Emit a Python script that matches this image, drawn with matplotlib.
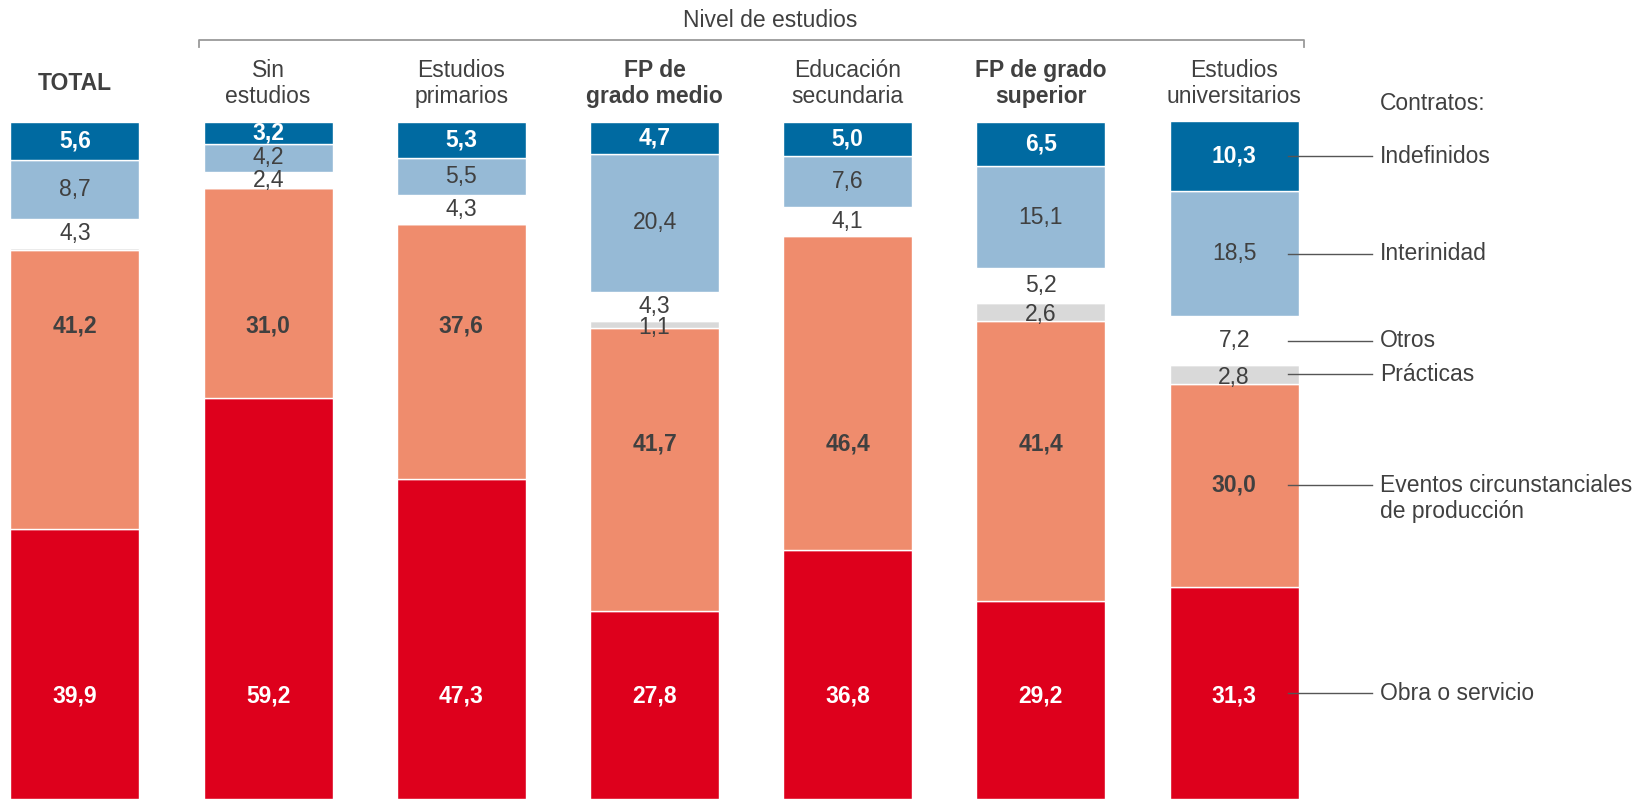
import matplotlib.pyplot as plt
import numpy as np

plt.rcParams['font.family'] = ['Liberation Sans', 'DejaVu Sans']

# categorias (columnas)
categorias = ['TOTAL', 'Sin\nestudios', 'Estudios\nprimarios', 'FP de\ngrado medio',
              'Educación\nsecundaria', 'FP de grado\nsuperior', 'Estudios\nuniversitarios']
negrita = [True, False, False, True, False, True, False]

# tipos de contrato, de abajo a arriba (%)
obra = [39.9, 59.2, 47.3, 27.8, 36.8, 29.2, 31.3]
eventos = [41.2, 31.0, 37.6, 41.7, 46.4, 41.4, 30.0]
practicas = [0.3, 0.0, 0.0, 1.1, 0.1, 2.6, 2.8]
otros = [4.3, 2.4, 4.3, 4.3, 4.1, 5.2, 7.2]
interinidad = [8.7, 4.2, 5.5, 20.4, 7.6, 15.1, 18.5]
indefinidos = [5.6, 3.2, 5.3, 4.7, 5.0, 6.5, 10.3]

nombres = ['Obra o servicio', 'Eventos circunstanciales\nde producción', 'Prácticas',
           'Otros', 'Interinidad', 'Indefinidos']

# posicion vertical de las etiquetas de obra y eventos (el diseño no las centra)
obra_label_y = 15.2
eventos_label_y = [69.9, 69.9, 69.9, 52.5, 52.5, 52.5, 46.3]

TXT = '#404040'
series = [
    (obra, '#de001c', 'white', 'bold'),
    (eventos, '#ef8c6d', TXT, 'bold'),
    (practicas, '#d9d9d9', TXT, 'normal'),
    (otros, 'white', TXT, 'normal'),
    (interinidad, '#96bad6', TXT, 'normal'),
    (indefinidos, '#006aa1', 'white', 'bold'),
]

fig = plt.figure(figsize=(16.41, 7.99), dpi=100)
ax = fig.add_axes([0, 0, 1, 1])
ax.set_xlim(-0.388, 8.106)
ax.set_ylim(0, 118.0)
ax.axis('off')

x = np.arange(len(categorias))
w = 0.668
fs = 16.5

def fmt(v):
    return f'{v:.1f}'.replace('.', ',')

bottom = np.zeros(len(categorias))
centros_ultima = []
for k, (vals, col, tcol, peso) in enumerate(series):
    vals = np.array(vals)
    ax.bar(x, vals, width=w, bottom=bottom, color=col, edgecolor='white', linewidth=1)
    for i in range(len(x)):
        if vals[i] < 1:
            continue
        yc = bottom[i] + vals[i] / 2
        if k == 0:
            yc = obra_label_y
        elif k == 1:
            yc = eventos_label_y[i]
        elif k == 2:
            yc -= 0.4
        ax.text(x[i], yc, fmt(vals[i]), ha='center', va='center', color=tcol,
                fontsize=fs, fontweight=peso)
    centros_ultima.append(bottom[-1] + vals[-1] / 2)
    bottom = bottom + vals

# cabeceras
for i, cat in enumerate(categorias):
    ax.text(x[i], 105.7, cat, ha='center', va='center', fontsize=fs,
            fontweight='bold' if negrita[i] else 'normal', color=TXT, linespacing=1.15)

# llave "Nivel de estudios"
ax.plot([0.64, 0.64, 6.36, 6.36], [111.0, 112.1, 112.1, 111.0], color='#9a9a9a', lw=1.3)
ax.text(3.6, 114.9, 'Nivel de estudios', ha='center', va='center',
        fontsize=fs, color=TXT)

# leyenda a la derecha
ax.text(6.755, 102.7, 'Contratos:', ha='left', va='center', fontsize=fs, color=TXT)
for nombre, yc in zip(nombres, centros_ultima):
    ax.plot([6.278, 6.713], [yc, yc], color='#555555', lw=1)
    lineas = nombre.split('\n')
    for j, t in enumerate(lineas):
        ax.text(6.755, yc - j * 3.85, t, ha='left', va='center', fontsize=fs, color=TXT)

fig.savefig('out.png', dpi=100)
